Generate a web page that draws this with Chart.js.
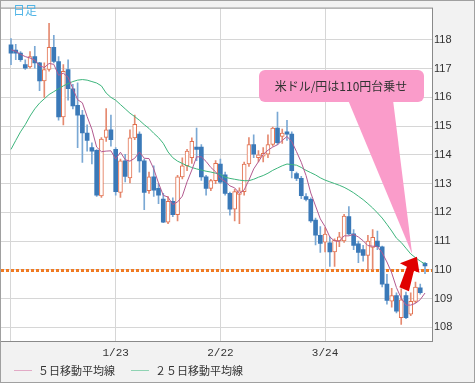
<!DOCTYPE html>
<html lang="ja">
<head>
  <meta charset="UTF-8">
  <title>米ドル/円 日足</title>
  <script src="https://cdn.jsdelivr.net/npm/chart.js"></script>
  <style>
    html, body { margin: 0; padding: 0; background: #f2f2f2; overflow: hidden; }
    canvas { display: block; }
  </style>
</head>
<body>
<canvas id="chart" width="475" height="383"></canvas>

<script>
// 日足 OHLC (index 0 = first candle)
const opens  = [117.83,117.65,117.54,117.14,117.06,117.42,117.20,116.57,116.97,117.74,
                117.25,115.32,116.97,116.30,115.72,115.38,114.76,114.25,114.16,112.57,
                114.61,114.87,114.19,112.69,113.79,113.20,114.59,114.72,113.79,112.75,
                113.23,112.83,112.46,111.66,112.38,111.92,113.23,113.62,113.90,114.27,
                114.27,113.23,112.83,113.10,113.68,113.30,112.66,112.11,112.62,112.72,
                113.68,114.36,113.90,113.95,114.02,114.36,114.93,114.64,114.80,114.72,
                113.35,113.18,112.55,112.45,111.73,111.20,110.96,110.94,110.62,111.00,
                111.00,111.85,111.25,110.90,110.70,110.50,110.78,111.00,110.80,109.50,
                108.91,109.10,108.33,109.10,108.45,108.90,109.37,110.22];
const highs  = [118.05,117.85,117.59,117.31,117.59,117.78,117.22,117.20,118.58,118.16,
                117.42,117.14,117.31,116.45,116.51,115.55,115.04,114.42,114.18,114.60,
                115.61,115.38,114.25,113.85,114.02,114.87,115.38,114.80,113.85,113.40,
                113.62,113.00,112.66,112.55,112.50,113.29,113.90,114.19,114.59,114.93,
                114.36,113.29,113.15,113.80,113.85,113.40,112.70,112.80,112.85,113.75,
                114.60,114.70,114.15,114.25,114.70,114.97,115.49,114.90,115.20,114.80,
                113.40,113.25,112.65,112.50,111.80,111.50,111.47,111.15,111.08,111.30,
                111.93,112.20,111.40,111.00,110.85,111.20,111.40,111.35,110.82,109.84,
                109.35,109.20,109.34,109.22,109.20,109.57,109.50,110.26];
const lows   = [117.14,117.31,117.25,116.97,117.02,117.02,116.23,116.00,116.91,117.20,
                115.21,115.04,115.90,115.60,114.25,113.74,114.13,113.68,112.55,112.52,
                114.47,114.30,112.60,112.52,113.06,113.02,114.53,113.40,112.09,112.66,
                112.55,112.30,111.64,111.60,111.85,111.70,113.16,113.45,113.70,113.80,
                113.11,112.60,112.75,113.00,113.00,112.60,111.90,111.70,111.60,112.60,
                113.60,113.90,113.75,113.75,113.90,114.30,114.35,114.40,114.50,113.20,
                113.10,112.47,112.40,111.65,110.86,110.60,110.62,110.12,110.12,110.80,
                110.95,111.20,110.70,110.25,110.30,110.00,110.00,110.70,109.40,108.80,
                108.70,108.50,108.10,108.30,108.40,108.85,109.15,109.86];
const closes = [117.54,117.54,117.31,117.02,117.42,117.20,116.57,116.97,117.74,117.25,
                115.32,116.91,116.30,115.70,115.38,114.76,114.50,114.13,112.60,114.55,
                114.87,114.53,112.72,113.79,113.25,114.59,115.06,113.79,112.69,113.23,
                112.77,112.60,111.66,112.38,111.92,113.23,113.62,114.13,114.47,114.19,
                113.23,112.83,113.10,113.70,113.05,112.66,112.11,112.72,112.75,113.68,
                114.36,114.02,114.00,114.05,114.36,114.93,114.42,114.76,114.72,113.45,
                113.18,112.58,112.45,111.70,111.20,110.92,111.24,110.62,111.02,111.15,
                111.87,111.25,110.85,110.60,110.50,111.00,111.13,110.80,109.50,108.93,
                109.10,108.56,108.95,108.33,108.90,109.40,109.20,110.13];

// 移動平均線
const ma5  = [117.66,117.60,117.50,117.42,117.37,117.30,117.10,117.04,117.18,117.15,
              116.77,116.84,116.70,116.30,115.92,115.81,115.33,114.89,114.27,114.11,
              114.13,114.14,113.85,114.09,113.83,113.78,113.88,114.10,113.88,113.87,
              113.51,113.02,112.59,112.53,112.27,112.36,112.56,113.06,113.47,113.93,
              113.93,113.77,113.56,113.41,113.18,113.07,112.92,112.85,112.66,112.78,
              113.12,113.51,113.76,114.02,114.16,114.27,114.35,114.50,114.64,114.46,
              114.11,113.74,113.28,112.67,112.22,111.77,111.50,111.14,111.00,110.99,
              111.18,111.18,111.23,111.14,111.01,110.84,110.82,110.81,110.59,110.27,
              109.89,109.38,109.01,108.77,108.77,108.83,108.96,109.19];
const ma25 = [114.19,114.50,114.80,115.05,115.35,115.60,115.80,115.95,116.10,116.20,
              116.30,116.40,116.48,116.55,116.60,116.62,116.60,116.55,116.50,116.40,
              116.15,116.00,115.90,115.75,115.60,115.45,115.33,115.20,115.05,114.92,
              114.75,114.60,114.40,114.10,113.90,113.78,113.70,113.62,113.56,113.51,
              113.47,113.43,113.40,113.36,113.32,113.22,113.18,113.15,113.12,113.10,
              113.10,113.15,113.22,113.28,113.36,113.46,113.54,113.62,113.68,113.66,
              113.64,113.56,113.46,113.38,113.30,113.20,113.12,113.06,113.00,112.94,
              112.87,112.78,112.68,112.56,112.44,112.30,112.15,111.98,111.80,111.58,
              111.35,111.10,110.95,110.75,110.55,110.42,110.30,110.20];

const tickIndex  = [0, 22, 44, 66];
const tickLabels = ['', '1/23', '2/22', '3/24'];
const yTicks     = [108, 109, 110, 111, 112, 113, 114, 115, 116, 117, 118];

const markLevel   = 110;
const calloutText = '米ドル/円は110円台乗せ';
const calloutAt   = [84.3, 110.55];   // index, price of the pointer tip
const arrowAt     = [85.3, 110.45];

const idx = closes.map((c, i) => i);
const isUp = idx.map(i => closes[i] > opens[i]);

const BLUE = '#3a79b8', BLUE_WICK = '#7aa8d4';
const RED = '#e2704e', RED_WICK = '#e58a70';

const decor = {
  id: 'decor',
  beforeDraw(chart) {
    const {ctx, chartArea: a} = chart;
    ctx.save();
    ctx.fillStyle = '#f2f2f2';
    ctx.fillRect(0, 0, chart.width, chart.height);
    ctx.fillStyle = '#fff';
    ctx.fillRect(a.left, a.top, a.right - a.left, a.bottom - a.top);
    ctx.restore();
  },
  beforeDatasetsDraw(chart) {
    const {ctx, chartArea: a, scales: {x, y}} = chart;
    ctx.save();
    // 110円 line
    const yy = Math.round(y.getPixelForValue(markLevel)) + 0.5;
    ctx.strokeStyle = '#f07a22';
    ctx.lineWidth = 3;
    ctx.setLineDash([3, 2]);
    ctx.beginPath();
    ctx.moveTo(a.left, yy);
    ctx.lineTo(a.right, yy);
    ctx.stroke();
    ctx.setLineDash([]);

    // callout
    const tx = x.getPixelForValue(calloutAt[0]);
    const ty = y.getPixelForValue(calloutAt[1]);
    ctx.fillStyle = '#fa9cca';
    ctx.beginPath();
    ctx.roundRect(259, 70, 165, 32, 6);
    ctx.fill();
    ctx.beginPath();
    ctx.moveTo(348, 100);
    ctx.lineTo(393, 100);
    ctx.lineTo(tx, ty);
    ctx.closePath();
    ctx.fill();
    ctx.fillStyle = '#333';
    ctx.font = '12px "Noto Sans CJK JP"';
    ctx.textAlign = 'center';
    ctx.textBaseline = 'middle';
    ctx.fillText(calloutText, 341, 86);
    ctx.restore();
  },
  afterDatasetsDraw(chart) {
    const {ctx, scales: {x, y}} = chart;
    const ax = x.getPixelForValue(arrowAt[0]);
    const ay = y.getPixelForValue(arrowAt[1]);
    const pts = [[0, 0], [2.5, 16], [-3, 14], [-8, 34.5], [-17.5, 30.5], [-10, 10], [-17, 6.5]];
    ctx.save();
    ctx.fillStyle = '#e00000';
    ctx.beginPath();
    pts.forEach(([dx, dy], i) => i ? ctx.lineTo(ax + dx, ay + dy) : ctx.moveTo(ax + dx, ay + dy));
    ctx.closePath();
    ctx.fill();
    ctx.restore();
  },
  afterDraw(chart) {
    const {ctx, chartArea: a} = chart;
    ctx.save();
    // plot border + outer frame
    ctx.strokeStyle = '#8a8a8a';
    ctx.lineWidth = 1;
    ctx.strokeRect(a.left - 0.5, a.top - 0.5, a.right - a.left + 1, a.bottom - a.top + 1);
    ctx.strokeStyle = '#a0a0a0';
    ctx.strokeRect(0.5, 0.5, chart.width - 1, chart.height - 1);

    // 日足
    ctx.fillStyle = '#4fb4e6';
    ctx.font = '12px "Noto Sans CJK JP"';
    ctx.textBaseline = 'middle';
    ctx.fillText('日足', 13, 10);

    // legend
    let lx = 14;
    const ly = 370.5;
    ctx.font = '11px "Noto Sans CJK JP"';
    chart.data.datasets.filter(d => d.type === 'line').forEach(d => {
      ctx.strokeStyle = d.legendColor;
      ctx.beginPath();
      ctx.moveTo(lx, ly);
      ctx.lineTo(lx + 18, ly);
      ctx.stroke();
      ctx.fillStyle = '#333';
      ctx.fillText(d.label, lx + 24, ly);
      lx += 24 + ctx.measureText(d.label).width + 16;
    });
    ctx.restore();
  }
};

new Chart(document.getElementById('chart'), {
  type: 'bar',
  data: {
    datasets: [
      {
        type: 'line',
        label: '５日移動平均線',
        data: idx.map(i => ({x: i, y: ma5[i]})),
        borderColor: '#b35a90',
        legendColor: '#e2aac6',
        borderWidth: 1,
        pointRadius: 0,
        order: 1
      },
      {
        type: 'line',
        label: '２５日移動平均線',
        data: idx.map(i => ({x: i, y: ma25[i]})),
        borderColor: '#3db57c',
        legendColor: '#8fd3b3',
        borderWidth: 1,
        pointRadius: 0,
        order: 2
      },
      {
        label: 'body',
        data: idx.map(i => ({x: i, y: [opens[i], closes[i]]})),
        backgroundColor: idx.map(i => isUp[i] ? '#fff' : BLUE),
        borderColor: idx.map(i => isUp[i] ? RED : BLUE),
        borderWidth: idx.map(i => isUp[i] ? 1 : 0),
        borderSkipped: false,
        barThickness: 4,
        grouped: false,
        order: 3
      },
      {
        label: 'wick',
        data: idx.map(i => ({x: i, y: [lows[i], highs[i]]})),
        backgroundColor: idx.map(i => isUp[i] ? RED_WICK : BLUE_WICK),
        barThickness: 1,
        grouped: false,
        order: 4
      }
    ]
  },
  options: {
    responsive: false,
    animation: false,
    devicePixelRatio: 1,
    layout: { padding: { left: 1, top: 1, right: 0, bottom: 22 } },
    plugins: {
      legend: { display: false },
      tooltip: { enabled: false }
    },
    scales: {
      x: {
        type: 'linear',
        min: -2.1,
        max: 88.47,
        offset: false,
        grid: { color: '#d6d6d6', drawTicks: false, offset: false },
        border: { display: false },
        afterBuildTicks: s => { s.ticks = tickIndex.map(v => ({value: v})); },
        afterFit: s => { s.height = 20; },
        ticks: {
          autoSkip: false,
          maxRotation: 0,
          padding: 5,
          color: '#333',
          font: { family: 'Liberation Mono', size: 11 },
          callback: v => tickLabels[tickIndex.indexOf(v)]
        }
      },
      y: {
        position: 'right',
        min: 107.52,
        max: 119.09,
        beginAtZero: false,
        grid: { color: '#d6d6d6', drawTicks: false },
        border: { display: false },
        afterBuildTicks: s => { s.ticks = yTicks.map(v => ({value: v})); },
        afterFit: s => { s.width = 43; },
        ticks: {
          padding: 2,
          color: '#333',
          font: { family: 'Liberation Sans', size: 11 }
        }
      }
    }
  },
  plugins: [decor]
});
</script>
</body>
</html>
